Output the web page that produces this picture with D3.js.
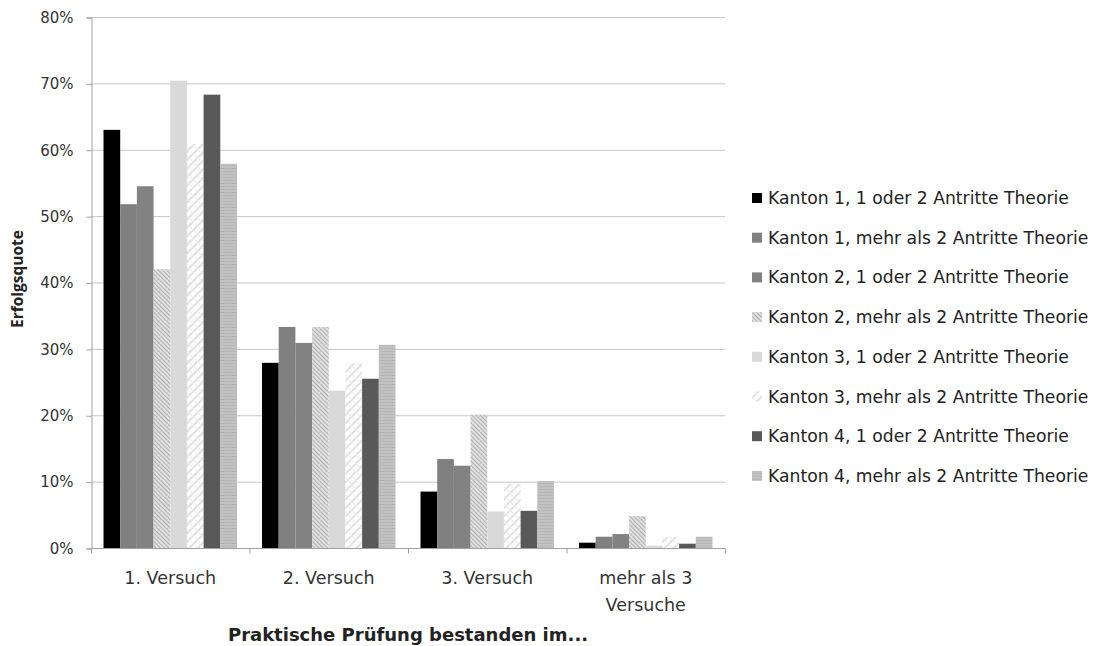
<!DOCTYPE html>
<html>
<head>
<meta charset="utf-8">
<script src="https://cdn.jsdelivr.net/npm/d3@7"></script>
<style>
  html, body { margin: 0; padding: 0; background: #fff; }
  svg { display: block; font-family: "DejaVu Sans", "Noto Sans", sans-serif; }
</style>
</head>
<body>
<svg id="chart" width="1097" height="646"></svg>
<script>
// Categories on the x axis (second line after "|")
const categories = ["1. Versuch", "2. Versuch", "3. Versuch", "mehr als 3|Versuche"];

// Series names
const seriesNames = [
  "Kanton 1, 1 oder 2 Antritte Theorie",
  "Kanton 1, mehr als 2 Antritte Theorie",
  "Kanton 2, 1 oder 2 Antritte Theorie",
  "Kanton 2, mehr als 2 Antritte Theorie",
  "Kanton 3, 1 oder 2 Antritte Theorie",
  "Kanton 3, mehr als 2 Antritte Theorie",
  "Kanton 4, 1 oder 2 Antritte Theorie",
  "Kanton 4, mehr als 2 Antritte Theorie"
];

// Success rate (%) per series, one value per category
const k1Few  = [63.0, 27.9,  8.5, 0.8];
const k1More = [51.8, 33.3, 13.4, 1.7];
const k2Few  = [54.5, 30.9, 12.4, 2.1];
const k2More = [42.0, 33.3, 20.1, 4.8];
const k3Few  = [70.4, 23.7,  5.5, 0.35];
const k3More = [60.9, 27.8,  9.7, 1.7];
const k4Few  = [68.3, 25.5,  5.6, 0.65];
const k4More = [57.9, 30.6, 10.1, 1.7];

const yTicks = [0, 10, 20, 30, 40, 50, 60, 70, 80];

const seriesValues = [k1Few, k1More, k2Few, k2More, k3Few, k3More, k4Few, k4More];

const svg = d3.select("#chart");

// Fill patterns
const defs = svg.append("defs");
const p1 = defs.append("pattern").attr("id", "hatchFine")
  .attr("patternUnits", "userSpaceOnUse").attr("width", 3).attr("height", 3)
  .attr("patternTransform", "rotate(-45)");
p1.append("rect").attr("width", 3).attr("height", 3).attr("fill", "#e2e2e2");
p1.append("rect").attr("width", 1.1).attr("height", 3).attr("fill", "#b0b0b0");

const p2 = defs.append("pattern").attr("id", "hatchWide")
  .attr("patternUnits", "userSpaceOnUse").attr("width", 6).attr("height", 6)
  .attr("patternTransform", "rotate(45)");
p2.append("rect").attr("width", 6).attr("height", 6).attr("fill", "#ffffff");
p2.append("rect").attr("width", 2).attr("height", 6).attr("fill", "#e0e0e0");
p2.append("rect").attr("width", 6).attr("height", 1).attr("fill", "#ececec");

const p3 = defs.append("pattern").attr("id", "hstripe")
  .attr("patternUnits", "userSpaceOnUse").attr("width", 4).attr("height", 3);
p3.append("rect").attr("width", 4).attr("height", 3).attr("fill", "#c2c2c2");
p3.append("rect").attr("width", 4).attr("height", 1).attr("fill", "#b6b6b6");

const fills = ["#000000", "#808080", "#828282", "url(#hatchFine)",
               "#d9d9d9", "url(#hatchWide)", "#595959", "url(#hstripe)"];

const plotLeft = 91, plotRight = 725, plotTop = 17, plotBottom = 548;

const x0 = d3.scaleBand().domain(categories).range([plotLeft, plotRight]).paddingInner(0).paddingOuter(0);
const barW = x0.bandwidth() / 9.5;
const x1 = d3.scaleBand().domain(d3.range(8)).range([barW * 0.75, x0.bandwidth() - barW * 0.75]).padding(0);
const y = d3.scaleLinear().domain([0, 80]).range([plotBottom, plotTop]);

// Gridlines
svg.append("g").selectAll("line").data(yTicks.filter(d => d > 0)).join("line")
  .attr("x1", plotLeft).attr("x2", plotRight)
  .attr("y1", d => y(d) + 0.5).attr("y2", d => y(d) + 0.5)
  .attr("stroke", "#c6c6c6").attr("stroke-width", 1);

// Y axis
const yAxis = svg.append("g").attr("transform", `translate(${plotLeft + 0.5},0.5)`)
  .call(d3.axisLeft(y).tickValues(yTicks).tickFormat(d => d + "%").tickSize(5).tickPadding(13));
yAxis.select(".domain").attr("stroke", "#a0a0a0");
yAxis.selectAll(".tick line").attr("stroke", "#a0a0a0");
yAxis.selectAll("text").attr("font-size", 15).attr("fill", "#333").attr("font-family", "DejaVu Sans");

// Bars
const groups = svg.append("g").selectAll("g").data(categories).join("g")
  .attr("transform", d => `translate(${x0(d)},0)`);
groups.selectAll("rect").data((d, ci) => seriesValues.map((vals, si) => ({ si, v: vals[ci] })))
  .join("rect")
  .attr("x", d => x1(d.si))
  .attr("width", x1.bandwidth())
  .attr("y", d => y(d.v))
  .attr("height", d => y(0) - y(d.v))
  .attr("fill", d => fills[d.si]);

// X axis
const xAxis = svg.append("g").attr("transform", `translate(0,${plotBottom + 0.5})`);
xAxis.append("line").attr("x1", plotLeft).attr("x2", plotRight).attr("stroke", "#a0a0a0");
xAxis.selectAll("line.tk").data(d3.range(categories.length + 1)).join("line").attr("class", "tk")
  .attr("x1", i => plotLeft + i * x0.bandwidth() + 0.5).attr("x2", i => plotLeft + i * x0.bandwidth() + 0.5)
  .attr("y1", 0).attr("y2", 5).attr("stroke", "#a0a0a0");
const catText = svg.append("g").selectAll("text").data(categories).join("text")
  .attr("x", d => x0(d) + x0.bandwidth() / 2)
  .attr("y", 584)
  .attr("text-anchor", "middle")
  .attr("font-size", 17.5).attr("fill", "#333");
catText.each(function (d) {
  const parts = d.split("|");
  const t = d3.select(this);
  parts.forEach((p, i) => {
    t.append("tspan").attr("x", x0(d) + x0.bandwidth() / 2).attr("dy", i === 0 ? 0 : 27).text(p);
  });
});

// Axis titles
svg.append("text")
  .attr("x", 408).attr("y", 641)
  .attr("text-anchor", "middle").attr("font-size", 18).attr("font-weight", "bold").attr("fill", "#222")
  .text("Praktische Prüfung bestanden im...");
svg.append("text")
  .attr("transform", "translate(23,279) rotate(-90)")
  .attr("text-anchor", "middle").attr("font-size", 15.5).attr("font-weight", "bold").attr("fill", "#222")
  .attr("font-family", "Open Sans")
  .text("Erfolgsquote");

// Legend
const legend = svg.append("g").selectAll("g").data(seriesNames).join("g")
  .attr("transform", (d, i) => `translate(752,${198 + i * 39.7})`);
legend.append("rect").attr("x", 0).attr("y", -5).attr("width", 10).attr("height", 10)
  .attr("fill", (d, i) => fills[i]);
legend.append("text").attr("x", 16).attr("y", 6)
  .attr("font-size", 17.2).attr("fill", "#222").text(d => d);
</script>
</body>
</html>
